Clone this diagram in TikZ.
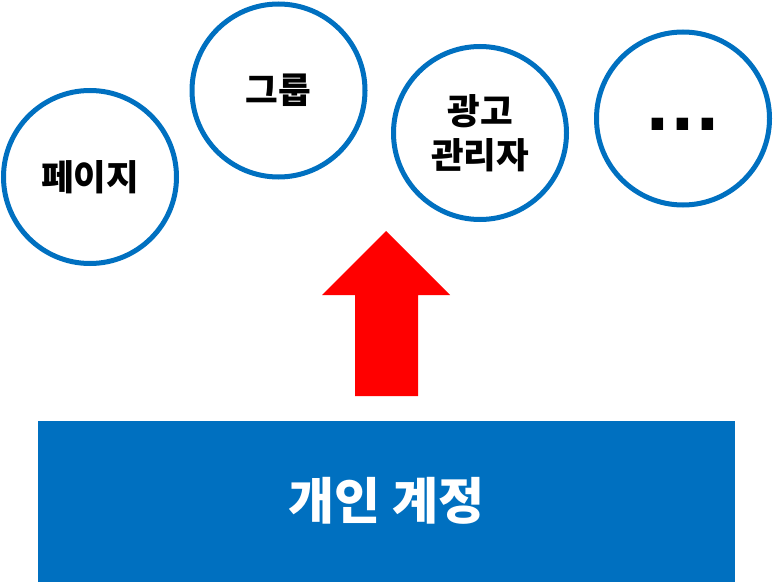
\documentclass[tikz,border=0pt]{standalone}
\usepackage{fontspec}
\setmainfont{Noto Sans CJK KR}
\newfontfamily\dotfont{DejaVu Sans}
\definecolor{acctblue}{RGB}{0,112,192}
\tikzset{
  bubble/.style={circle, draw=acctblue, line width=5pt, minimum size=173pt,
    inner sep=0pt, align=center, font=\fontsize{35.5}{44}\selectfont\bfseries},
  account/.style={fill=acctblue, text=white, minimum width=697pt,
    minimum height=161pt, inner sep=0pt, font=\fontsize{50}{56}\selectfont\bfseries}
}
\begin{document}
\begin{tikzpicture}[x=1pt,y=-1pt]
  \useasboundingbox (0,0) rectangle (773,583);
  \node[bubble] (page) at (90,177) {페이지};
  \node[bubble] (group) at (278.5,90.5) {그룹};
  \node[bubble] (admgr) at (480,133) {광고\\관리자};
  \node[bubble, font=\dotfont\fontsize{65}{65}\selectfont\bfseries] (more) at (683,118.5) {\raisebox{-11.5pt}[0pt][0pt]{...}};
  \node[account] (personal) at (386.5,501) {개인 계정};

  \coordinate (up) at (386,231);
  \fill[red] (up) -- ++(64,64) -- ++(-32,0) -- ++(0,101) -- ++(-63,0)
    -- ++(0,-101) -- ++(-33,0) -- cycle;
\end{tikzpicture}
\end{document}
